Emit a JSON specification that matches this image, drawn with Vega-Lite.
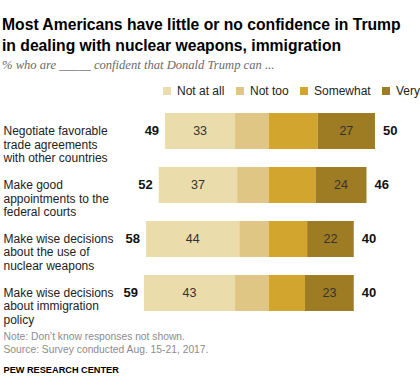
{
  "$schema": "https://vega.github.io/schema/vega-lite/v6.json",
  "width": 301,
  "height": 216,
  "autosize": {"type": "none"},
  "padding": {"left": 110, "top": 104, "right": 9, "bottom": 71},
  "background": "white",
  "config": {"view": {"stroke": null}, "font": "Liberation Sans"},
  "datasets": {
    "bars": [
      {"q": "Negotiate favorable|trade agreements|with other countries", "resp": "Not at all", "k": 2, "pct": 33, "v": -33},
      {"q": "Negotiate favorable|trade agreements|with other countries", "resp": "Not too", "k": 1, "pct": 16, "v": -16},
      {"q": "Negotiate favorable|trade agreements|with other countries", "resp": "Somewhat", "k": 3, "pct": 23, "v": 23},
      {"q": "Negotiate favorable|trade agreements|with other countries", "resp": "Very", "k": 4, "pct": 27, "v": 27},
      {"q": "Make good|appointments to the|federal courts", "resp": "Not at all", "k": 2, "pct": 37, "v": -37},
      {"q": "Make good|appointments to the|federal courts", "resp": "Not too", "k": 1, "pct": 15, "v": -15},
      {"q": "Make good|appointments to the|federal courts", "resp": "Somewhat", "k": 3, "pct": 22, "v": 22},
      {"q": "Make good|appointments to the|federal courts", "resp": "Very", "k": 4, "pct": 24, "v": 24},
      {"q": "Make wise decisions|about the  use of|nuclear weapons", "resp": "Not at all", "k": 2, "pct": 44, "v": -44},
      {"q": "Make wise decisions|about the  use of|nuclear weapons", "resp": "Not too", "k": 1, "pct": 14, "v": -14},
      {"q": "Make wise decisions|about the  use of|nuclear weapons", "resp": "Somewhat", "k": 3, "pct": 18, "v": 18},
      {"q": "Make wise decisions|about the  use of|nuclear weapons", "resp": "Very", "k": 4, "pct": 22, "v": 22},
      {"q": "Make wise decisions|about immigration|policy", "resp": "Not at all", "k": 2, "pct": 43, "v": -43},
      {"q": "Make wise decisions|about immigration|policy", "resp": "Not too", "k": 1, "pct": 16, "v": -16},
      {"q": "Make wise decisions|about immigration|policy", "resp": "Somewhat", "k": 3, "pct": 17, "v": 17},
      {"q": "Make wise decisions|about immigration|policy", "resp": "Very", "k": 4, "pct": 23, "v": 23}
    ],
    "totals": [
      {"q": "Negotiate favorable|trade agreements|with other countries", "neg": 49, "negx": -49, "pos": 50},
      {"q": "Make good|appointments to the|federal courts", "neg": 52, "negx": -52, "pos": 46},
      {"q": "Make wise decisions|about the  use of|nuclear weapons", "neg": 58, "negx": -58, "pos": 40},
      {"q": "Make wise decisions|about immigration|policy", "neg": 59, "negx": -59, "pos": 40}
    ]
  },
  "title": {
    "text": ["Most Americans have little or no confidence in Trump", "in dealing with nuclear weapons, immigration"],
    "subtitle": "% who are _____ confident that Donald Trump can ...",
    "anchor": "start",
    "frame": "group",
    "dx": -108,
    "font": "Liberation Sans",
    "fontSize": 15.7,
    "fontWeight": "bold",
    "lineHeight": 21,
    "color": "#000",
    "subtitleFont": "Liberation Serif",
    "subtitleFontStyle": "italic",
    "subtitleFontSize": 12.6,
    "subtitleColor": "#6a6a6a",
    "subtitlePadding": 5,
    "offset": 12
  },
  "encoding": {
    "y": {
      "field": "q",
      "type": "nominal",
      "sort": null,
      "scale": {"paddingInner": 0.333, "paddingOuter": 0.1667},
      "axis": {
        "title": "PEW RESEARCH CENTER",
        "titleAngle": 0,
        "titleAlign": "left",
        "titleBaseline": "alphabetic",
        "titleX": -107,
        "titleY": 268,
        "titleFont": "Liberation Sans",
        "titleFontSize": 9.2,
        "titleFontWeight": "bold",
        "titleColor": "#000",
        "domain": false,
        "ticks": false,
        "labelAlign": "left",
        "labelPadding": 107,
        "labelExpr": "split(datum.label, '|')",
        "labelFont": "Liberation Sans",
        "labelFontSize": 12,
        "labelLineHeight": 13.5,
        "labelColor": "#222",
        "labelLimit": 0
      }
    }
  },
  "layer": [
    {
      "data": {"name": "bars"},
      "mark": {"type": "bar"},
      "encoding": {
        "x": {
          "field": "v",
          "type": "quantitative",
          "stack": "zero",
          "scale": {"domain": [-75, 67], "nice": false, "zero": false},
          "axis": {
            "title": ["Note: Don\u2019t know responses not shown.", "Source: Survey conducted Aug. 15-21, 2017."],
            "titleAnchor": "start",
            "titleAlign": "left",
            "titleBaseline": "top",
            "titleX": -107,
            "titleY": 11,
            "titleFont": "Liberation Sans",
            "titleFontSize": 10.3,
            "titleFontWeight": "normal",
            "titleColor": "#8c8c8c",
            "titleLineHeight": 13,
            "domain": false,
            "ticks": false,
            "labels": false,
            "grid": false
          }
        },
        "color": {
          "field": "resp",
          "type": "nominal",
          "scale": {
            "domain": ["Not at all", "Not too", "Somewhat", "Very"],
            "range": ["#ebdcab", "#e0c684", "#d2a52f", "#9e7c24"]
          },
          "legend": {
            "orient": "none",
            "direction": "horizontal",
            "legendX": 51,
            "legendY": -19,
            "title": null,
            "symbolType": "square",
            "symbolSize": 64,
            "symbolStrokeWidth": 0,
            "labelFont": "Liberation Sans",
            "labelFontSize": 12,
            "labelColor": "#222",
            "columnPadding": 9,
            "labelOffset": 4,
            "padding": 0
          }
        },
        "order": {"field": "k", "type": "quantitative"}
      }
    },
    {
      "data": {"name": "bars"},
      "transform": [
        {"stack": "v", "groupby": ["q"], "sort": [{"field": "k"}], "as": ["v0", "v1"]},
        {"calculate": "(datum.v0 + datum.v1) / 2", "as": "mid"},
        {"filter": "datum.resp === 'Not at all' || datum.resp === 'Very'"}
      ],
      "mark": {"type": "text", "font": "Liberation Sans", "fontSize": 12.5, "color": "#333", "baseline": "middle"},
      "encoding": {
        "x": {"field": "mid", "type": "quantitative"},
        "text": {"field": "pct", "type": "quantitative"}
      }
    },
    {
      "mark": {"type": "rule", "color": "#8a8a8a", "strokeWidth": 1},
      "encoding": {"x": {"datum": 0, "type": "quantitative"}}
    },
    {
      "data": {"name": "totals"},
      "mark": {"type": "text", "font": "Liberation Sans", "fontSize": 13, "fontWeight": "bold", "color": "#111", "align": "right", "dx": -6, "baseline": "middle"},
      "encoding": {
        "x": {"field": "negx", "type": "quantitative"},
        "text": {"field": "neg", "type": "quantitative"}
      }
    },
    {
      "data": {"name": "totals"},
      "mark": {"type": "text", "font": "Liberation Sans", "fontSize": 13, "fontWeight": "bold", "color": "#111", "align": "left", "dx": 8, "baseline": "middle"},
      "encoding": {
        "x": {"field": "pos", "type": "quantitative"},
        "text": {"field": "pos", "type": "quantitative"}
      }
    }
  ]
}
